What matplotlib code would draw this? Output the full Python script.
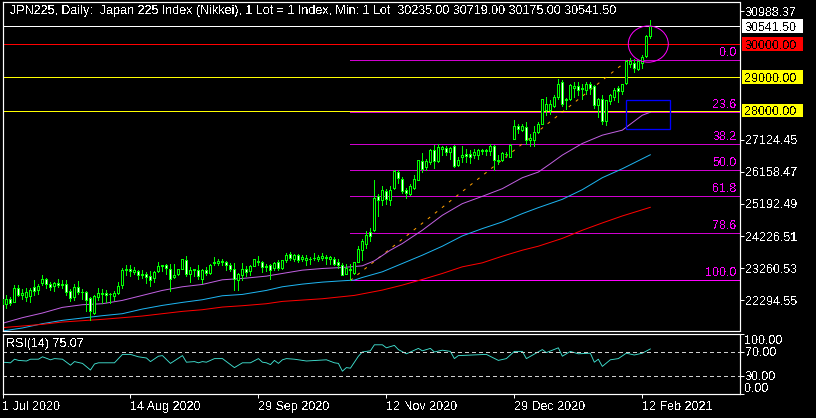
import matplotlib
matplotlib.use("Agg")
import matplotlib.pyplot as plt
from matplotlib.patches import Ellipse, Rectangle

plt.rcParams["font.family"] = ["Liberation Sans", "DejaVu Sans"]
plt.rcParams["font.size"] = 9
plt.rcParams["text.antialiased"] = False

# Velas
highs = [22440, 22460, 22390, 22760, 22740, 22640, 22670, 22670, 22890, 22770,
         23040, 22970, 22840, 22840, 22940, 22890, 22910, 22640, 22790, 22860,
         22640, 22570, 22390, 22440, 22670, 22640, 22610, 22510, 22570, 22840,
         23270, 23340, 23360, 23290, 23210, 23210, 23140, 23160, 23170, 23460,
         23360, 23390, 23390, 23390, 23240, 23540, 23640, 23290, 23240, 23340,
         23240, 23290, 23390, 23610, 23530, 23530, 23490, 23410, 23410, 23110,
         23430, 23310, 23370, 23550, 23640, 23490, 23390, 23400, 23450, 23500,
         23520, 23720, 23750, 23700, 23700, 23650, 23650, 23600, 23730, 23650,
         23730, 23650, 23620, 23600, 23550, 23420, 23400, 23400, 23460, 23930,
         24150, 24380, 24480, 25900, 25480, 25720, 25650, 25720, 26200, 26200,
         26000, 25680, 25780, 26050, 26520, 26720, 26550, 26830, 26950, 26980,
         26920, 26920, 26900, 26950, 26600, 26920, 26850, 26820, 26850, 26850,
         26850, 26850, 26980, 26950, 26650, 26750, 26750, 26980, 27720, 27600,
         27600, 27670, 27300, 27550, 27650, 28360, 28410, 28310, 28460, 28960,
         28910, 28380, 28810, 28860, 28860, 28810, 28860, 28860, 28760, 28390,
         28460, 28330, 28510, 28690, 28730, 28810, 29510, 29590, 29560, 29510,
         29660, 30260, 30719]
lows = [22150, 22060, 22140, 22240, 22410, 22340, 22260, 22240, 22440, 22490,
        22740, 22670, 22590, 22570, 22690, 22670, 22460, 22270, 22310, 22490,
        22340, 21970, 21690, 21870, 22290, 22210, 22240, 22220, 22290, 22470,
        22670, 23040, 23010, 23070, 22930, 22960, 22820, 22710, 22840, 23140,
        23160, 23090, 22570, 22970, 23040, 23220, 23010, 22830, 23010, 22940,
        22810, 23040, 23090, 23370, 23340, 23370, 23190, 23170, 22590, 22610,
        22890, 23010, 23040, 23310, 23340, 23140, 23160, 22940, 23200, 23200,
        23220, 23450, 23520, 23480, 23450, 23480, 23350, 23380, 23500, 23480,
        23500, 23400, 23400, 23350, 23250, 23050, 23080, 22900, 23080, 23450,
        23520, 23870, 24080, 24370, 24820, 25150, 25180, 25150, 25630, 25830,
        25530, 25380, 25450, 25630, 25900, 26150, 26200, 26400, 26280, 26450,
        26650, 26670, 26550, 26300, 26320, 26450, 26450, 26420, 26580, 26550,
        26700, 26650, 26650, 26220, 26380, 26480, 26600, 26600, 27130, 27320,
        27400, 27000, 26920, 26920, 27320, 27590, 27860, 27910, 28110, 28360,
        28130, 28060, 28330, 28410, 28460, 28360, 28490, 28510, 28090, 27810,
        27590, 27560, 28190, 28310, 28260, 28510, 28790, 29310, 29160, 29230,
        29280, 29610, 30175]
opens = [22190, 22190, 22340, 22240, 22670, 22440, 22390, 22410, 22690, 22590,
         22810, 22940, 22790, 22710, 22820, 22790, 22790, 22570, 22390, 22690,
         22550, 22540, 22370, 21920, 22390, 22490, 22520, 22480, 22410, 22510,
         22750, 23240, 23240, 23140, 23160, 23040, 23090, 23030, 22960, 23170,
         23330, 23340, 23240, 22990, 23070, 23220, 23510, 23070, 23210, 23210,
         22940, 23210, 23110, 23410, 23430, 23440, 23450, 23360, 23240, 22890,
         23040, 23240, 23160, 23330, 23470, 23450, 23290, 23340, 23250, 23450,
         23250, 23500, 23700, 23550, 23660, 23540, 23520, 23550, 23560, 23550,
         23580, 23560, 23540, 23550, 23450, 23370, 23080, 23210, 23120, 23450,
         23800, 23980, 24350, 24400, 25420, 25300, 25570, 25300, 25660, 26150,
         25930, 25620, 25480, 25670, 25920, 26470, 26300, 26450, 26820, 26480,
         26830, 26880, 26750, 26920, 26350, 26600, 26700, 26700, 26650, 26650,
         26780, 26790, 26780, 26920, 26480, 26520, 26680, 26600, 27130, 27550,
         27430, 27520, 27100, 27120, 27350, 27590, 28030, 28030, 28130, 28410,
         28860, 28310, 28360, 28690, 28730, 28660, 28610, 28810, 28730, 28160,
         28360, 27690, 28290, 28410, 28690, 28590, 28830, 29410, 29430, 29260,
         29440, 29630, 30235]
closes = [22340, 22340, 22210, 22670, 22440, 22520, 22540, 22610, 22570, 22730,
          22940, 22790, 22690, 22810, 22740, 22760, 22540, 22370, 22690, 22540,
          22540, 22290, 21970, 22410, 22510, 22510, 22450, 22470, 22520, 22730,
          23210, 23190, 23170, 23210, 23050, 23090, 22990, 22890, 23150, 23330,
          23340, 23260, 22930, 23060, 23240, 23540, 23080, 23190, 23220, 23010,
          23190, 23110, 23370, 23460, 23480, 23480, 23350, 23220, 22930, 23070,
          23240, 23140, 23330, 23540, 23450, 23290, 23320, 23200, 23420, 23250,
          23520, 23670, 23580, 23670, 23500, 23600, 23570, 23530, 23580, 23600,
          23620, 23600, 23600, 23400, 23350, 23050, 23250, 23230, 23460, 23850,
          24070, 24250, 24230, 25380, 25300, 25600, 25350, 25620, 26170, 25970,
          25570, 25520, 25720, 25950, 26500, 26250, 26470, 26800, 26480, 26900,
          26900, 26750, 26860, 26330, 26520, 26670, 26620, 26600, 26750, 26800,
          26820, 26800, 26920, 26520, 26500, 26720, 26700, 26950, 27550, 27450,
          27550, 27100, 27170, 27350, 27600, 28340, 28190, 28210, 28410, 28810,
          28210, 28340, 28760, 28730, 28630, 28680, 28810, 28680, 28160, 28360,
          27690, 28310, 28480, 28610, 28580, 28790, 29480, 29480, 29280, 29480,
          29610, 30230, 30541.5]

# Medias moviles (barra, precio)
ma_purple_bars = [0, 5, 10, 15, 20, 25, 30, 35, 40, 45, 50, 55, 60, 66, 70, 75, 80, 85, 90, 93,
                  97, 100, 105, 110, 115, 120, 125, 130, 134, 137, 140, 145, 150, 155, 160, 162]
ma_purple = [21600, 21770, 21910, 22080, 22160, 22190, 22290, 22440, 22590, 22700, 22770, 22910,
             22950, 23020, 23100, 23200, 23250, 23280, 23330, 23480, 23800, 24000, 24400, 24850,
             25200, 25420, 25650, 25980, 26150, 26400, 26660, 27010, 27260, 27410, 27860, 27950]
ma_blue_bars = [0, 5, 10, 15, 20, 25, 30, 35, 40, 45, 50, 55, 60, 66, 70, 75, 80, 85, 88, 90, 95,
                100, 105, 110, 115, 120, 125, 130, 134, 140, 145, 150, 155, 162]
ma_blue = [21370, 21460, 21590, 21690, 21760, 21830, 21890, 22030, 22140, 22230, 22310, 22430,
           22470, 22590, 22700, 22780, 22840, 22880, 22900, 22980, 23150, 23400, 23650, 23920,
           24230, 24450, 24650, 24900, 25080, 25330, 25620, 25980, 26250, 26670]
ma_red_bars = [0, 5, 10, 15, 20, 25, 30, 35, 40, 45, 50, 55, 60, 66, 70, 80, 88, 95, 100, 105,
               110, 115, 120, 125, 130, 134, 140, 145, 150, 155, 162]
ma_red = [21470, 21520, 21570, 21640, 21680, 21720, 21770, 21820, 21890, 21960, 22010, 22090,
          22130, 22190, 22260, 22340, 22440, 22600, 22750, 22920, 23100, 23300, 23420, 23620,
          23800, 23920, 24155, 24400, 24620, 24830, 25090]

# Fibonacci
fib_names = ["0.0", "23.6", "38.2", "50.0", "61.8", "78.6", "100.0"]
fib_prices = [29530, 27945, 26994, 26210, 25426, 24310, 22890]
trend_bars = [87, 156.5]
trend_prices = [22890, 29530]

# RSI (barra, valor)
rsi_bars = [0, 2, 3, 4, 6, 7, 9, 10, 12, 13, 15, 17, 18, 20, 22, 23, 24, 28, 30, 32, 34, 36, 37,
            39, 40, 42, 45, 46, 48, 49, 50, 51, 53, 55, 58, 60, 62, 64, 65, 66, 67, 68, 69, 70,
            71, 73, 76, 81, 83, 84, 85, 86, 87, 89, 90, 92, 93, 95, 96, 98, 99, 101, 102, 104,
            105, 107, 108, 110, 112, 113, 114, 121, 124, 126, 128, 130, 131, 135, 136, 139, 140,
            142, 144, 147, 148, 149, 150, 152, 154, 156, 158, 160, 162]
rsi_vals = [53, 52, 58, 56, 55, 58, 58, 62, 57, 59, 58, 48, 54, 51, 40, 50, 52, 52, 66, 66, 62,
            60, 54, 63, 64, 51, 64, 53, 54, 52, 54, 53, 59, 59, 44, 52, 52, 59, 53, 52, 49, 56,
            51, 57, 59, 58, 55, 57, 52, 51, 38, 44, 43, 63, 70, 72, 82, 82, 77, 81, 74, 67, 70,
            76, 72, 76, 70, 73, 71, 59, 64, 66, 56, 59, 71, 71, 59, 74, 69, 77, 63, 71, 67, 68,
            53, 58, 46, 57, 59, 68, 65, 68, 75.07]

price_ticks = [30988.37, 27124.45, 26158.47, 25192.49, 24226.51, 23260.53, 22294.55]
date_ticks = [0, 32, 64, 96, 128, 160]
date_labels = ["1 Jul 2020", "14 Aug 2020", "29 Sep 2020", "12 Nov 2020", "29 Dec 2020", "12 Feb 2021"]
title = "JPN225, Daily:  Japan 225 Index (Nikkei), 1 Lot = 1 Index, Min: 1 Lot  30235.00 30719.00 30175.00 30541.50"

W, H = 816, 418
PX = 0.72  # 1 pixel en puntos a 100 dpi

fig = plt.figure(figsize=(W / 100, H / 100), dpi=100, facecolor="black")
ax = fig.add_axes([2.5 / W, (H - 331) / H, 737 / W, 329 / H], facecolor="black")
ax2 = fig.add_axes([2.5 / W, (H - 394) / H, 737 / W, 60 / H], facecolor="black")

xlim = (0.05, 184.3)
ax.set_xlim(xlim)
ax.set_ylim(21370, 31265)
ax2.set_xlim(xlim)
ax2.set_ylim(0, 100)

for a in (ax, ax2):
    for s in a.spines.values():
        s.set_color("white")
        s.set_linewidth(PX * 1.2)

# Lineas horizontales
ax.axhline(30541.5, color="white", lw=PX, antialiased=False)
ax.axhline(30000, color="#ff0000", lw=PX, antialiased=False)
ax.axhline(29000, color="#ffff00", lw=PX, antialiased=False)

# Fibonacci
for name, p in zip(fib_names, fib_prices):
    c = "#ff00ff" if name == "100.0" else "#d000d0"
    ax.plot([87, xlim[1]], [p, p], color=c, lw=PX, antialiased=False)
    ax.annotate(name, (1, p), xycoords=ax.get_yaxis_transform(), xytext=(-2, 0.8),
                textcoords="offset points", ha="right", va="bottom", color="#ff00ff", fontsize=9)
ax.plot(trend_bars, trend_prices, color="#ffa000", lw=PX, ls=(0, (3, 6)))

ax.axhline(28000, color="#ffff00", lw=PX, antialiased=False, zorder=2.5)

# Medias moviles
ax.plot(ma_purple_bars, ma_purple, color="#c060e0", lw=PX)
ax.plot(ma_blue_bars, ma_blue, color="#1eb4f0", lw=PX)
ax.plot(ma_red_bars, ma_red, color="#ff0000", lw=PX)

# Velas
bars = range(len(closes))
ax.vlines(bars, lows, highs, color="#00ff00", lw=PX, antialiased=False, zorder=3)
for i in bars:
    fc = "black" if closes[i] >= opens[i] else "white"
    bottom = min(opens[i], closes[i])
    height = abs(closes[i] - opens[i])
    ax.add_patch(Rectangle((i - 0.25, bottom), 0.5, height, facecolor=fc, edgecolor="#00ff00",
                           lw=PX, antialiased=False, zorder=4))

# Objetos dibujados
ax.add_patch(Rectangle((156, 27460), 11, 870, fill=False, edgecolor="#0000ff", lw=PX * 1.3, zorder=5))
ax.add_patch(Ellipse((161.5, 30000), 10, 1090, fill=False, edgecolor="#ff00ff", lw=PX, zorder=5))

# Eje de precios
ax.yaxis.tick_right()
ax.set_yticks(price_ticks)
ax.set_yticklabels(["%.2f" % p for p in price_ticks])
ax.set_xticks([])
ax.tick_params(axis="y", colors="white", length=3, width=PX, pad=1, labelsize=9)

# Etiquetas de precio con caja
trans = ax.get_yaxis_transform()
for p, txt, bg in [(30541.5, "30541.50", "white"), (30000, "30000.00", "#ff0000"),
                   (29000, "29000.00", "#ffff00"), (28000, "28000.00", "#ffff00")]:
    ax.add_patch(Rectangle((1 + 2.5 / 737, p - 205), 61 / 737, 410, transform=trans, facecolor=bg,
                           edgecolor="none", clip_on=False))
    ax.text(1 + 5 / 737, p, txt, transform=trans, color="black", va="center_baseline", ha="left", fontsize=9)

ax.text(8 / 737, 1 - 9 / 329, title, transform=ax.transAxes, color="white", va="center", ha="left", fontsize=9)

# RSI
ax2.plot(rsi_bars, rsi_vals, color="#40e0d0", lw=PX * 0.9)
ax2.axhline(70, color="#d0d0d0", lw=PX, ls=(0, (3, 3)), antialiased=False)
ax2.axhline(30, color="#d0d0d0", lw=PX, ls=(0, (3, 3)), antialiased=False)
ax2.text(3 / 737, 1 - 10.5 / 60, "RSI(14) 75.07", transform=ax2.transAxes, color="white", va="center", ha="left", fontsize=9)

ax2.yaxis.tick_right()
ax2.set_yticks([0, 30, 70, 100])
ax2.set_yticklabels(["", "30.00", "70.00", ""])
ax2.tick_params(axis="y", colors="white", length=3, width=PX, pad=1, labelsize=9)
trans2 = ax2.get_yaxis_transform()
ax2.text(1 + 5 / 737, 89, "100.00", transform=trans2, color="white", va="center", ha="left", fontsize=9)
ax2.text(1 + 5 / 737, 9, "0.00", transform=trans2, color="white", va="center", ha="left", fontsize=9)

ax2.set_xticks(date_ticks)
ax2.set_xticklabels(date_labels, ha="left")
ax2.tick_params(axis="x", colors="white", length=3, width=PX, pad=2, labelsize=9)

fig.savefig("out.png", dpi=100, facecolor="black")
